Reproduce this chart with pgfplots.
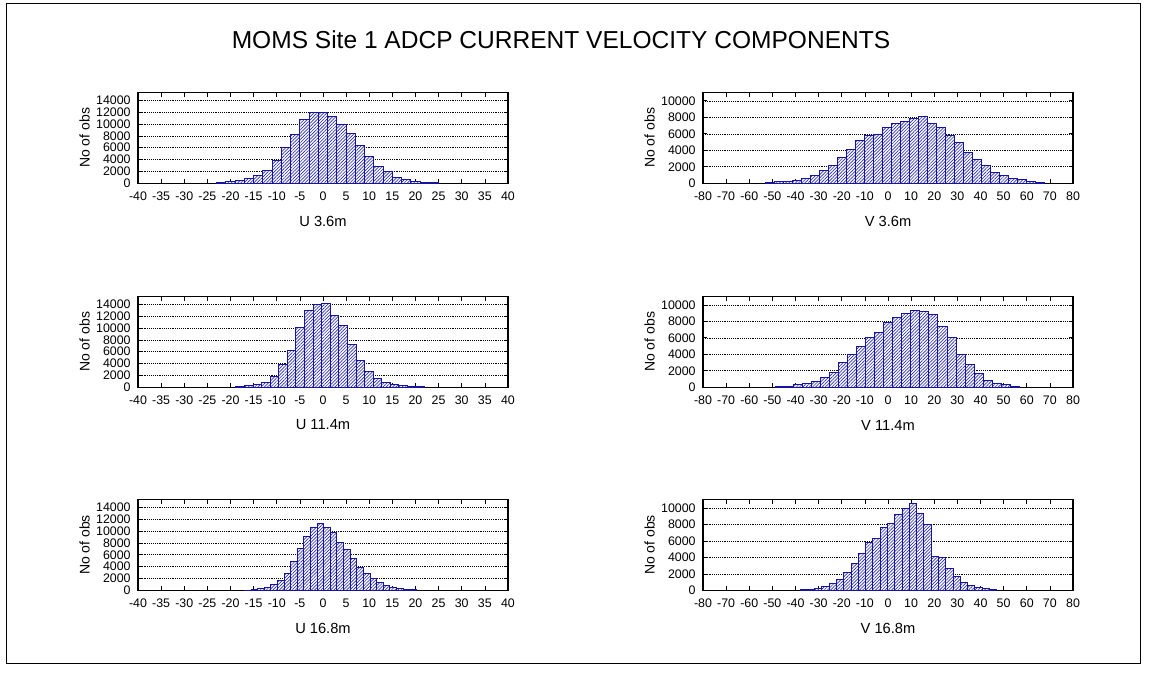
\documentclass[border=0pt]{standalone}
\usepackage{fontspec}
\setmainfont{Liberation Sans}
\usepackage{pgfplots}
\pgfplotsset{compat=1.18}
\usetikzlibrary{patterns.meta}

\definecolor{barline}{RGB}{20,20,160}
\definecolor{hatch}{RGB}{45,45,180}

\pgfplotsset{
  histo/.style={
    scale only axis,
    width=277.5pt, height=68pt,
    axis line style={black, line width=0.8pt},
    tick align=inside,
    major tick length=3pt,
    tick style={black, line width=0.5pt},
    ymin=0,
    ymajorgrids,
    major grid style={black, line width=0.45pt, dash pattern=on 0.6pt off 0.8pt},
    tick label style={font=\fontsize{9.3}{10}\selectfont},
    scaled y ticks=false,
    /pgf/number format/assume math mode=true,
    /pgf/number format/1000 sep={},
    xticklabel style={yshift=-3pt},
    yticklabel style={xshift=-2pt},
    xlabel style={font=\fontsize{11}{12}\selectfont, at={(axis description cs:0.5,0)}, anchor=center, yshift=-28.3pt},
    ylabel style={font=\fontsize{10.5}{12}\selectfont, yshift=-2pt},
    ylabel={No of obs},
  },
  uaxis/.style={histo, xmin=-40, xmax=40, xtick={-40,-35,...,40}, ymax=15300, ytick={0,2000,...,14000}},
  vaxis/.style={histo, xmin=-80, xmax=80, xtick={-80,-70,...,80}, ymax=11000, ytick={0,2000,...,10000}},
  bars/.style={ybar interval, draw=barline, line width=0.7pt, fill=white,
    postaction={pattern={Lines[angle=45,distance=1.7pt,line width=0.5pt]}, pattern color=hatch}},
}

\begin{document}
\begin{tikzpicture}
\useasboundingbox (0,0) rectangle (863.25pt,507.75pt);
\draw[line width=0.75pt] (4.5pt,9.75pt) rectangle (855pt,504.75pt);
\node[font=\fontsize{18.4}{20}\selectfont] at (420.75pt,477.75pt) {MOMS Site 1 ADCP CURRENT VELOCITY COMPONENTS};

% U component, 3.6 m
\begin{axis}[uaxis, at={(103.5pt,370.3pt)}, anchor=south west, xlabel={U 3.6m}]
\addplot[bars] coordinates {
(-23,150) (-21,280) (-19,450) (-17,750) (-15,1250) (-13,2200) (-11,3850) (-9,6100)
(-7,8200) (-5,10700) (-3,11900) (-1,11950) (1,11200) (3,10000) (5,8450) (7,6300)
(9,4500) (11,2800) (13,1950) (15,1000) (17,700) (19,350) (21,150) (23,100) (25,100)};
\end{axis}

% V component, 3.6 m
\begin{axis}[vaxis, at={(527.25pt,370.3pt)}, anchor=south west, xlabel={V 3.6m}]
\addplot[bars] coordinates {
(-53.19,80) (-49.30,200) (-45.41,200) (-41.51,370) (-37.62,600) (-33.73,1000)
(-29.84,1500) (-25.95,2100) (-22.05,3100) (-18.16,4100) (-14.27,5200) (-10.38,5750)
(-6.49,5950) (-2.59,6750) (1.30,7250) (5.19,7450) (9.08,7900) (12.97,8100)
(16.87,7250) (20.76,6750) (24.65,5800) (28.54,4900) (32.43,3700) (36.33,2850)
(40.22,2100) (44.11,1350) (48.00,1000) (51.89,600) (55.79,400) (59.68,200)
(63.57,80) (67.46,80)};
\end{axis}

% U component, 11.4 m
\begin{axis}[uaxis, at={(103.5pt,217.3pt)}, anchor=south west, xlabel={U 11.4m}]
\addplot[bars] coordinates {
(-18.84,140) (-16.99,250) (-15.13,520) (-13.28,850) (-11.42,1900) (-9.57,3800)
(-7.71,6150) (-5.86,10050) (-4.00,12900) (-2.15,13900) (-0.29,14200) (1.56,12150)
(3.42,10450) (5.27,7250) (7.13,4500) (8.98,2650) (10.84,1500) (12.69,800)
(14.55,520) (16.40,300) (18.26,190) (20.11,140) (21.97,140)};
\end{axis}

% V component, 11.4 m
\begin{axis}[vaxis, at={(527.25pt,217.3pt)}, anchor=south west, xlabel={V 11.4m}]
\addplot[bars] coordinates {
(-48.86,80) (-44.95,130) (-41.03,280) (-37.12,420) (-33.20,720) (-29.29,1220)
(-25.38,1850) (-21.46,3050) (-17.55,3980) (-13.63,4950) (-9.72,6050) (-5.81,6600)
(-1.89,7900) (2.02,8430) (5.94,8950) (9.85,9350) (13.76,9230) (17.68,8840)
(21.59,7370) (25.51,6000) (29.42,3980) (33.33,2770) (37.25,1630) (41.16,830)
(45.08,500) (48.99,290) (52.90,130) (56.82,130)};
\end{axis}

% U component, 16.8 m
\begin{axis}[uaxis, at={(103.5pt,65pt)}, anchor=south west, xlabel={U 16.8m}]
\addplot[bars] coordinates {
(-17.00,50) (-15.57,100) (-14.14,280) (-12.71,450) (-11.28,950) (-9.85,1680)
(-8.42,2900) (-6.99,4930) (-5.56,7000) (-4.13,9130) (-2.70,10530) (-1.27,11200)
(0.16,10640) (1.59,9690) (3.02,8000) (4.45,6890) (5.88,5430) (7.31,3920)
(8.74,2800) (10.17,1960) (11.60,1290) (13.03,840) (14.46,560) (15.89,390)
(17.32,220) (18.75,110) (20.18,110)};
\end{axis}

% V component, 16.8 m
\begin{axis}[vaxis, at={(527.25pt,65pt)}, anchor=south west, xlabel={V 16.8m}]
\addplot[bars] coordinates {
(-38.05,80) (-34.90,160) (-31.75,280) (-28.60,440) (-25.45,840) (-22.30,1360)
(-19.15,2160) (-16.00,3280) (-12.85,4480) (-9.70,5760) (-6.55,6240) (-3.40,7640)
(-0.25,8160) (2.90,9240) (6.05,9960) (9.20,10480) (12.35,9360) (15.50,8040)
(18.65,4100) (21.80,4000) (24.95,2700) (28.10,1700) (31.25,970) (34.40,570)
(37.55,370) (40.70,250) (43.85,120) (47.00,120)};
\end{axis}
\end{tikzpicture}
\end{document}
